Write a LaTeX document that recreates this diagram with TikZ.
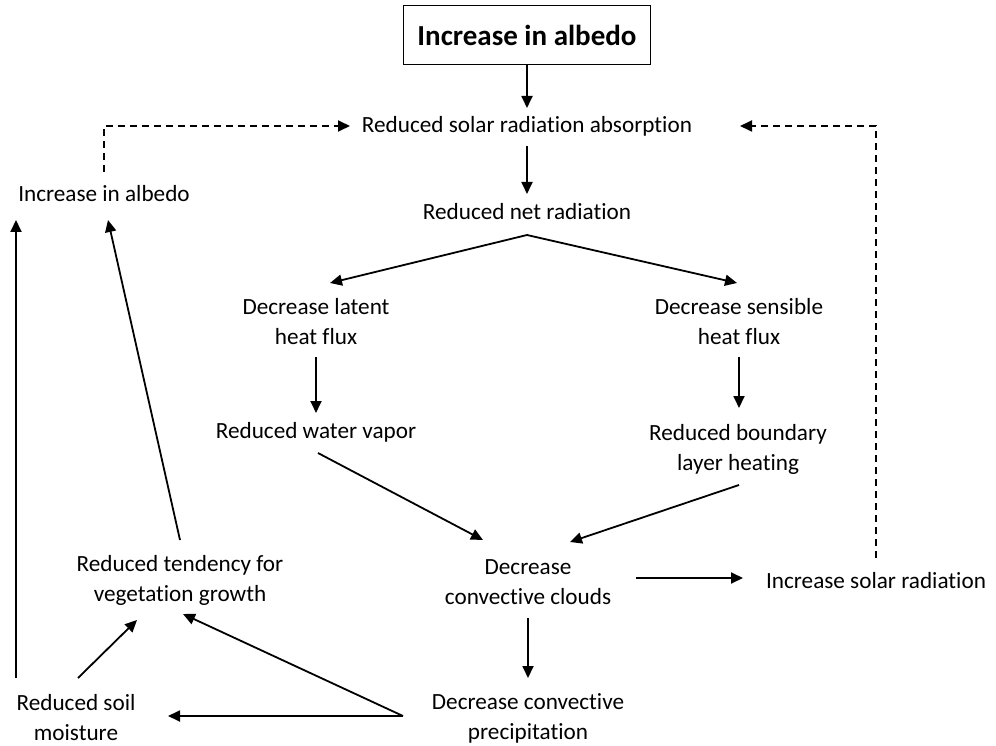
\documentclass[tikz,border=0pt]{standalone}
\usepackage{fontspec}
\setmainfont[Ligatures=NoCommon]{Carlito}
\usetikzlibrary{arrows.meta}
\begin{document}
\begin{tikzpicture}[x=1pt,y=-1pt,
  lbl/.style={align=center,inner sep=0pt,font=\fontsize{23.2}{30}\selectfont},
  arr/.style={line width=1.8pt,-{Triangle[length=12pt,width=11pt]}},
  darr/.style={arr,dashed,dash pattern=on 7pt off 5pt}]
\useasboundingbox (0,0) rectangle (996,746);
\node[draw,line width=1.6pt,minimum width=247pt,minimum height=59pt,inner sep=0pt,font=\fontsize{29}{32}\selectfont\bfseries] (top) at (527,35) {Increase in albedo};
\node[lbl] (rsra) at (527,126) {Reduced solar radiation absorption};
\node[lbl] (rnr) at (527,212) {Reduced net radiation};
\node[lbl] (dlhf) at (316,322) {Decrease latent\\heat flux};
\node[lbl] (dshf) at (739,322) {Decrease sensible\\heat flux};
\node[lbl] (rwv) at (316,432) {Reduced water vapor};
\node[lbl] (rblh) at (738,449) {Reduced boundary\\layer heating};
\node[lbl] (dcc) at (528,582) {Decrease\\convective clouds};
\node[lbl] (isr) at (876,581) {Increase solar radiation};
\node[lbl] (rtvg) at (180,580) {Reduced tendency for\\vegetation growth};
\node[lbl] (ia) at (104,194) {Increase in albedo};
\node[lbl] (rsm) at (76,718) {Reduced soil\\moisture};
\node[lbl] (dcp) at (528,718) {Decrease convective\\precipitation};
% helper coordinates
\coordinate (rnrb) at (527,235);
\coordinate (rsraL) at (350,126);
\coordinate (rsraR) at (740,126);
\coordinate (iaTop) at (104,172);
\coordinate (isrTop) at (876,558);
\coordinate (dcpL) at (403,716);
\coordinate (rsmTop) at (16,678);
\coordinate (iaBL) at (16,220);
\coordinate (iaB) at (108,220);
\coordinate (rtvgT) at (180,540);
\coordinate (rtvgB) at (137,620);
\coordinate (rtvgBR) at (183,614);
\coordinate (rsmTR) at (78,678);
\coordinate (rsmR) at (168,716);
\draw[arr] (top.south) -- (527,108);
\draw[arr] (527,146) -- (527,194);
\draw[arr] (rnrb) -- (330,283);
\draw[arr] (rnrb) -- (737,283);
\draw[arr] (316,357) -- (316,413);
\draw[arr] (739,357) -- (739,408);
\draw[arr] (318,453) -- (483,540);
\draw[arr] (739,485) -- (570,542);
\draw[arr] (528,618) -- (528,678);
\draw[arr] (636,578) -- (743,578);
\draw[darr] (isrTop) -- (876,126) -- (rsraR);
\draw[darr] (iaTop) -- (104,126) -- (rsraL);
\draw[arr] (rtvgT) -- (iaB);
\draw[arr] (rsmTop) -- (iaBL);
\draw[arr] (rsmTR) -- (rtvgB);
\draw[arr] (dcpL) -- (rtvgBR);
\draw[arr] (dcpL) -- (rsmR);
\end{tikzpicture}
\end{document}
